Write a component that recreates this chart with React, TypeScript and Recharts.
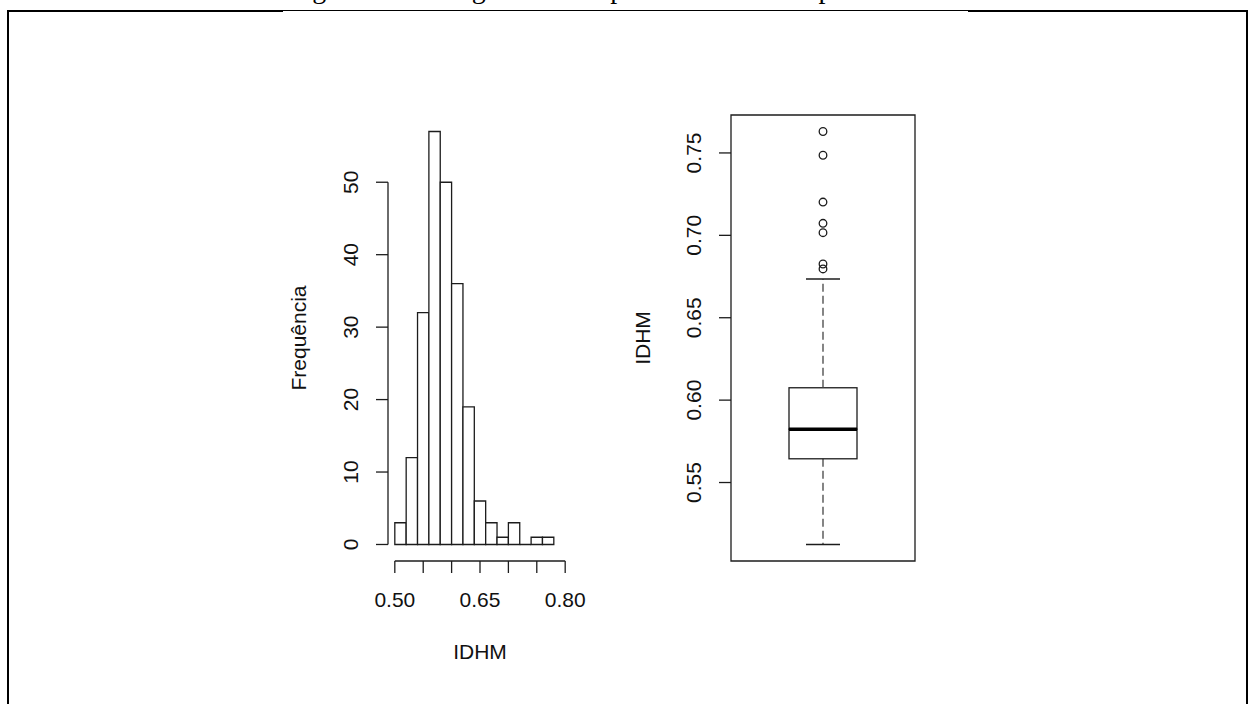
import React from 'react';
import {
  ComposedChart,
  Bar,
  Scatter,
  XAxis,
  YAxis,
  ReferenceLine,
  ReferenceArea,
} from 'recharts';

// histograma do IDHM: classes de largura 0.02
const binStarts = [0.5, 0.52, 0.54, 0.56, 0.58, 0.6, 0.62, 0.64, 0.66, 0.68, 0.7, 0.72, 0.74, 0.76];
const binCounts = [3, 12, 32, 57, 50, 36, 19, 6, 3, 1, 3, 0, 1, 1];
const histXTicks = [0.5, 0.55, 0.6, 0.65, 0.7, 0.75, 0.8];
const histXLabels = [0.5, 0.65, 0.8];
const histYTicks = [0, 10, 20, 30, 40, 50];

// boxplot: limite inferior, Q1, mediana, Q3, limite superior
const boxStats = [0.5124, 0.5644, 0.5824, 0.6075, 0.6735];
const outliers = [0.7630, 0.7486, 0.7202, 0.7073, 0.7016, 0.6826, 0.6796];
const boxYTicks = [0.55, 0.6, 0.65, 0.7, 0.75];

const CAPTION = 'Figura 2 – Histograma e boxplot do IDHM em período';

const FONT = '"Liberation Sans", Arial, Helvetica, sans-serif';
const INK = '#1c1c1c';
const LW = 1.3;
const FS = 21;

const BIN_W = 0.02;
const PLOT_W = 184;
const PLOT_H = 446;
const PLOT_TOP = 15;

const histXLim = [0.5, 0.8];
const xExt = (histXLim[1] - histXLim[0]) * 0.04;
const histXDom = [histXLim[0] - xExt, histXLim[1] + xExt];
const yMax = Math.max(...binCounts);
const histYDom = [-yMax * 0.04, yMax * 1.04];

const pxPerX = PLOT_W / (histXDom[1] - histXDom[0]);
// a hair under the bin width so recharts keeps the size as given
const binPx = BIN_W * pxPerX - 0.01;

const histRows = binStarts.map((s, i) => ({ mid: s + BIN_W / 2, count: binCounts[i] }));

const allBox = [...boxStats, ...outliers];
const boxRange = Math.max(...allBox) - Math.min(...allBox);
const boxDom = [Math.min(...allBox) - boxRange * 0.04, Math.max(...allBox) + boxRange * 0.04];

const boxRows = [
  {
    name: 'IDHM',
    base: boxStats[0],
    lowW: boxStats[1] - boxStats[0],
    lowBox: boxStats[2] - boxStats[1],
    upBox: boxStats[3] - boxStats[2],
    upW: boxStats[4] - boxStats[3],
  },
];
const outlierRows = outliers.map((v) => ({ name: 'IDHM', v }));
const BOX_W = 68;

const textStyle = { fontFamily: FONT, fontSize: FS, fill: '#111' };

const HistBar = (p: any) => {
  const { x, y, width, height } = p;
  return (
    <path
      d={`M${x},${y}h${width}v${height}h${-width}Z`}
      fill="#fff"
      stroke={INK}
      strokeWidth={LW}
    />
  );
};

const HistXTick = ({ x, y, payload }: any) => {
  const v = payload.value;
  if (!histXLabels.some((l) => Math.abs(l - v) < 1e-9)) return <g />;
  return (
    <text x={x} y={y} dy="0.71em" textAnchor="middle" style={textStyle}>
      {v.toFixed(2)}
    </text>
  );
};

const RotTick = ({ x, y, payload, digits }: any) => (
  <text x={x} y={y} transform={`rotate(-90 ${x} ${y})`} textAnchor="middle" style={textStyle}>
    {digits ? payload.value.toFixed(digits) : payload.value}
  </text>
);

const Title = ({ tx, ty, rotate, text }: any) => (
  <text
    x={tx}
    y={ty}
    transform={rotate ? `rotate(-90 ${tx} ${ty})` : undefined}
    textAnchor="middle"
    style={textStyle}
  >
    {text}
  </text>
);

const LowWhisker = (p: any) => {
  const { x, y, width, height } = p;
  const cx = x + width / 2;
  return (
    <g stroke={INK} strokeWidth={LW}>
      <line x1={cx} y1={y} x2={cx} y2={y + height} strokeDasharray="8 4" stroke="#444" />
      <line x1={cx - width / 4} y1={y + height} x2={cx + width / 4} y2={y + height} />
    </g>
  );
};

const UpWhisker = (p: any) => {
  const { x, y, width, height } = p;
  const cx = x + width / 2;
  return (
    <g stroke={INK} strokeWidth={LW}>
      <line x1={cx} y1={y + height} x2={cx} y2={y} strokeDasharray="8 4" stroke="#444" />
      <line x1={cx - width / 4} y1={y} x2={cx + width / 4} y2={y} />
    </g>
  );
};

const LowBox = (p: any) => {
  const { x, y, width, height } = p;
  return <rect x={x} y={y} width={width} height={height} fill="none" stroke={INK} strokeWidth={LW} />;
};

const UpBox = (p: any) => {
  const { x, y, width, height } = p;
  return (
    <g>
      <rect x={x} y={y} width={width} height={height} fill="none" stroke={INK} strokeWidth={LW} />
      <line x1={x} y1={y + height} x2={x + width} y2={y + height} stroke="#000" strokeWidth={3.5} />
    </g>
  );
};

const OutlierDot = (p: any) => (
  <circle cx={p.cx} cy={p.cy} r={3.8} fill="none" stroke={INK} strokeWidth={LW} />
);

const Histogram = () => (
  <ComposedChart
    width={320}
    height={590}
    data={histRows}
    margin={{ top: PLOT_TOP, right: 320 - 108 - PLOT_W, bottom: 590 - PLOT_TOP - PLOT_H - 100, left: 0 }}
  >
    <XAxis
      dataKey="mid"
      type="number"
      domain={histXDom}
      allowDataOverflow
      ticks={histXTicks}
      interval={0}
      height={100}
      axisLine={false}
      tickSize={12}
      tickMargin={19}
      tickLine={{ stroke: INK, strokeWidth: LW }}
      tick={<HistXTick />}
      label={<Title tx={108 + PLOT_W / 2} ty={559} text="IDHM" />}
    />
    <YAxis
      type="number"
      domain={histYDom}
      allowDataOverflow
      ticks={histYTicks}
      interval={0}
      width={108}
      axisLine={false}
      tickSize={12}
      tickMargin={18}
      tickLine={{ stroke: INK, strokeWidth: LW }}
      tick={<RotTick />}
      label={<Title tx={26} ty={PLOT_TOP + PLOT_H / 2} rotate text="Frequência" />}
    />
    <Bar dataKey="count" barSize={binPx} shape={<HistBar />} isAnimationActive={false} />
    <ReferenceLine
      segment={[
        { x: histXLim[0], y: histYDom[0] },
        { x: histXLim[1], y: histYDom[0] },
      ]}
      stroke={INK}
      strokeWidth={LW}
      ifOverflow="visible"
    />
    <ReferenceLine
      segment={[
        { x: histXDom[0], y: histYTicks[0] },
        { x: histXDom[0], y: histYTicks[histYTicks.length - 1] },
      ]}
      stroke={INK}
      strokeWidth={LW}
      ifOverflow="visible"
    />
  </ComposedChart>
);

const BoxPlot = () => (
  <ComposedChart
    width={320}
    height={590}
    data={boxRows}
    margin={{ top: PLOT_TOP, right: 320 - 111 - PLOT_W, bottom: 590 - PLOT_TOP - PLOT_H, left: 0 }}
  >
    <XAxis dataKey="name" type="category" hide allowDuplicatedCategory={false} />
    <YAxis
      type="number"
      domain={boxDom}
      allowDataOverflow
      ticks={boxYTicks}
      interval={0}
      width={111}
      axisLine={false}
      tickSize={12}
      tickMargin={18}
      tickLine={{ stroke: INK, strokeWidth: LW }}
      tick={<RotTick digits={2} />}
      label={<Title tx={30} ty={PLOT_TOP + PLOT_H / 2} rotate text="IDHM" />}
    />
    <ReferenceArea y1={boxDom[0]} y2={boxDom[1]} fill="none" stroke={INK} strokeWidth={LW} ifOverflow="visible" />
    <Bar dataKey="base" stackId="box" barSize={BOX_W} fill="none" isAnimationActive={false} />
    <Bar dataKey="lowW" stackId="box" barSize={BOX_W} shape={<LowWhisker />} isAnimationActive={false} />
    <Bar dataKey="lowBox" stackId="box" barSize={BOX_W} shape={<LowBox />} isAnimationActive={false} />
    <Bar dataKey="upBox" stackId="box" barSize={BOX_W} shape={<UpBox />} isAnimationActive={false} />
    <Bar dataKey="upW" stackId="box" barSize={BOX_W} shape={<UpWhisker />} isAnimationActive={false} />
    <Scatter data={outlierRows} dataKey="v" shape={<OutlierDot />} isAnimationActive={false} />
  </ComposedChart>
);

const frame = (left: number, top: number, width: number, height: number) => (
  <div style={{ position: 'absolute', left, top, width, height, background: '#000' }} />
);

export default function App() {
  return (
    <div
      style={{
        position: 'absolute',
        left: 0,
        top: 0,
        width: 1248,
        height: 704,
        overflow: 'hidden',
        background: '#fff',
      }}
    >
      <div
        style={{
          position: 'absolute',
          left: 289,
          top: -25,
          fontFamily: '"Liberation Serif", "Times New Roman", serif',
          fontSize: 28,
          lineHeight: '28px',
          whiteSpace: 'nowrap',
          color: '#000',
        }}
      >
        {CAPTION}
      </div>
      {frame(7, 10, 276, 2)}
      {frame(283, 10, 685, 1)}
      {frame(968, 10, 280, 2)}
      {frame(7, 10, 2, 694)}
      {frame(1246, 10, 2, 694)}
      <div style={{ position: 'absolute', left: 280, top: 100 }}>
        <Histogram />
      </div>
      <div style={{ position: 'absolute', left: 620, top: 100 }}>
        <BoxPlot />
      </div>
    </div>
  );
}
